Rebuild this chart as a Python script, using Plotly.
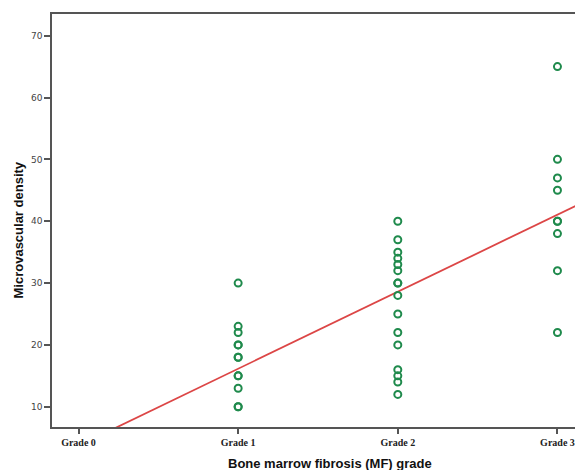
import plotly.graph_objects as go

# Data
grade_labels = ["Grade 0", "Grade 1", "Grade 2", "Grade 3"]
grade_positions = [0, 1, 2, 3]

grade1_mvd = [30, 23, 22, 20, 20, 18, 18, 15, 15, 13, 10, 10]
grade2_mvd = [40, 37, 35, 34, 33, 32, 30, 30, 28, 25, 22, 20, 16, 15, 14, 12]
grade3_mvd = [65, 50, 47, 45, 40, 40, 38, 32, 22]

# Fit line (intercept at Grade 0, slope per grade)
fit_intercept = 3.7
fit_slope = 12.45

y_ticks = [10, 20, 30, 40, 50, 60, 70]

x_range = [-0.166, 3.16]
y_range = [6.73, 73.5]

xs = [1] * len(grade1_mvd) + [2] * len(grade2_mvd) + [3] * len(grade3_mvd)
ys = grade1_mvd + grade2_mvd + grade3_mvd

fig = go.Figure()

line_x = [x_range[0] - 0.2, x_range[1] + 0.2]
line_y = [fit_intercept + fit_slope * v for v in line_x]
fig.add_trace(go.Scatter(
    x=line_x, y=line_y, mode="lines",
    line=dict(color="#dc4646", width=1.8),
    showlegend=False, hoverinfo="skip", cliponaxis=True,
))

fig.add_trace(go.Scatter(
    x=xs, y=ys, mode="markers",
    marker=dict(symbol="circle-open", size=7, color="#1f8a4c",
                line=dict(width=2, color="#1f8a4c")),
    showlegend=False,
))

axis_color = "#555555"
fig.update_xaxes(
    range=x_range, tickvals=grade_positions, ticktext=grade_labels,
    showgrid=False, zeroline=False,
    showline=True, linecolor=axis_color, linewidth=1.5, mirror=True,
    ticks="outside", ticklen=5, tickwidth=1.5, tickcolor=axis_color,
    tickfont=dict(family="Liberation Serif", size=10, color="#222222",
                  weight="bold"),
)
fig.update_yaxes(
    range=y_range, tickvals=y_ticks,
    showgrid=False, zeroline=False,
    showline=True, linecolor=axis_color, linewidth=1.5, mirror=False,
    ticks="outside", ticklen=6, tickwidth=1.5, tickcolor=axis_color,
    tickfont=dict(family="DejaVu Sans", size=9, color="#444444"),
)

fig.update_layout(
    width=575, height=462,
    margin=dict(l=44, r=0, t=6, b=43),
    plot_bgcolor="white", paper_bgcolor="white",
    annotations=[
        dict(text="<b>Bone marrow fibrosis (MF) grade</b>",
             xref="paper", yref="paper", x=0.5, y=0,
             xanchor="center", yanchor="top", yshift=-27,
             xshift=12,
             showarrow=False,
             font=dict(family="Liberation Sans", size=13, color="#111111")),
        dict(text="<b>Microvascular density</b>",
             xref="paper", yref="paper", x=0, y=0.5,
             xanchor="center", yanchor="middle", xshift=-34,
             yshift=-10,
             textangle=-90, showarrow=False,
             font=dict(family="Liberation Sans", size=13, color="#111111")),
    ],
)

fig.write_html("out.html")
